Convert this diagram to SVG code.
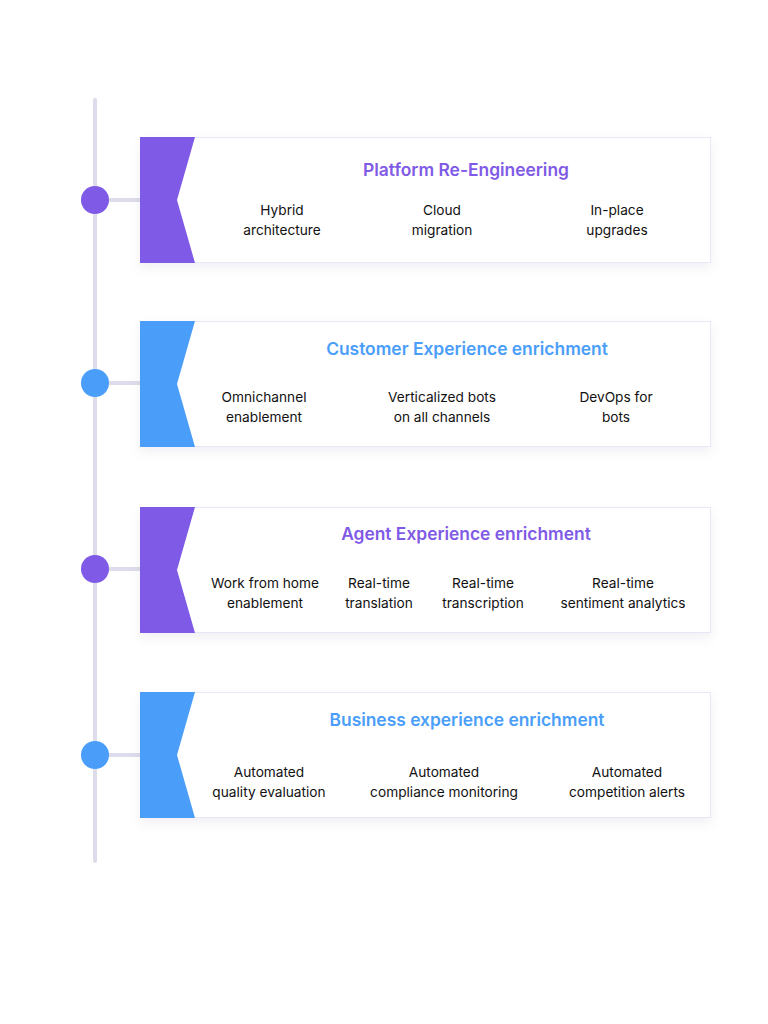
<svg xmlns="http://www.w3.org/2000/svg" width="768" height="1024" viewBox="0 0 768 1024">
<defs>
<filter id="sh" x="-10%" y="-20%" width="120%" height="150%">
<feDropShadow dx="0" dy="5" stdDeviation="6" flood-color="#1a1a40" flood-opacity="0.06"/>
</filter>
<style>
.card{fill:#ffffff;stroke:#e6e8f5;stroke-width:1}
.purple{fill:#7f5ae6}
.blue{fill:#4a9ef9}
.title{font-family:Inter,"Noto Sans",sans-serif;font-size:17.4px;font-weight:600;text-anchor:middle}
.tp{fill:#7f5ae6}
.tb{fill:#4a9ef9}
.item{font-family:Inter,"Noto Sans",sans-serif;font-size:13.7px;fill:#111111;text-anchor:middle}
.line{stroke:#dcdcea;stroke-width:4;stroke-linecap:round;fill:none}
</style>
</defs>
<rect width="768" height="1024" fill="#ffffff"/>
<g id="connectors">
<line class="line" x1="95" y1="100" x2="95" y2="861"/>
<line class="line" x1="95" y1="200" x2="142" y2="200" stroke-linecap="butt"/>
<line class="line" x1="95" y1="383" x2="142" y2="383" stroke-linecap="butt"/>
<line class="line" x1="95" y1="569" x2="142" y2="569" stroke-linecap="butt"/>
<line class="line" x1="95" y1="755" x2="142" y2="755" stroke-linecap="butt"/>
</g>
<g id="node1">
<circle class="purple" cx="95" cy="200" r="14"/>
<rect class="card" x="140.5" y="137.5" width="570" height="125" filter="url(#sh)"/>
<polygon class="purple" points="140,137 195,137 177,200 195,263 140,263"/>
<text class="title tp" x="466" y="176">Platform Re-Engineering</text>
<text class="item" x="282" y="215">Hybrid</text>
<text class="item" x="282" y="235">architecture</text>
<text class="item" x="442" y="215">Cloud</text>
<text class="item" x="442" y="235">migration</text>
<text class="item" x="617" y="215">In-place</text>
<text class="item" x="617" y="235">upgrades</text>
</g>
<g id="node2">
<circle class="blue" cx="95" cy="383" r="14"/>
<rect class="card" x="140.5" y="321.5" width="570" height="125" filter="url(#sh)"/>
<polygon class="blue" points="140,321 195,321 177,384 195,447 140,447"/>
<text class="title tb" x="467" y="355">Customer Experience enrichment</text>
<text class="item" x="264" y="402">Omnichannel</text>
<text class="item" x="264" y="422">enablement</text>
<text class="item" x="442" y="402">Verticalized bots</text>
<text class="item" x="442" y="422">on all channels</text>
<text class="item" x="616" y="402">DevOps for</text>
<text class="item" x="616" y="422">bots</text>
</g>
<g id="node3">
<circle class="purple" cx="95" cy="569" r="14"/>
<rect class="card" x="140.5" y="507.5" width="570" height="125" filter="url(#sh)"/>
<polygon class="purple" points="140,507 195,507 177,570 195,633 140,633"/>
<text class="title tp" x="466" y="540">Agent Experience enrichment</text>
<text class="item" x="265" y="588">Work from home</text>
<text class="item" x="265" y="608">enablement</text>
<text class="item" x="379" y="588">Real-time</text>
<text class="item" x="379" y="608">translation</text>
<text class="item" x="483" y="588">Real-time</text>
<text class="item" x="483" y="608">transcription</text>
<text class="item" x="623" y="588">Real-time</text>
<text class="item" x="623" y="608">sentiment analytics</text>
</g>
<g id="node4">
<circle class="blue" cx="95" cy="755" r="14"/>
<rect class="card" x="140.5" y="692.5" width="570" height="125" filter="url(#sh)"/>
<polygon class="blue" points="140,692 195,692 177,755 195,818 140,818"/>
<text class="title tb" x="467" y="726">Business experience enrichment</text>
<text class="item" x="269" y="777">Automated</text>
<text class="item" x="269" y="797">quality evaluation</text>
<text class="item" x="444" y="777">Automated</text>
<text class="item" x="444" y="797">compliance monitoring</text>
<text class="item" x="627" y="777">Automated</text>
<text class="item" x="627" y="797">competition alerts</text>
</g>
</svg>
